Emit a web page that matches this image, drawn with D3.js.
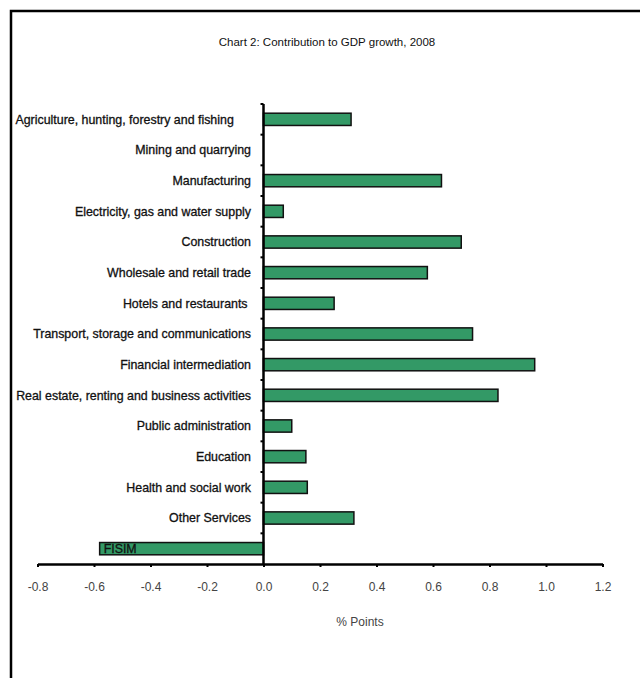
<!DOCTYPE html>
<html>
<head>
<meta charset="utf-8">
<script src="https://cdn.jsdelivr.net/npm/d3@7"></script>
<style>
  html, body { margin: 0; padding: 0; background: #fff; }
  svg { display: block; }
  text { font-family: "Liberation Sans", Arial, sans-serif; }
</style>
</head>
<body>
<svg id="chart" width="640" height="678"></svg>
<script>
// Sector contributions to GDP growth, 2008 (percentage points)
const sectors = [
  "Agriculture, hunting, forestry and fishing     ",
  "Mining and quarrying",
  "Manufacturing",
  "Electricity, gas and water supply",
  "Construction",
  "Wholesale and retail trade",
  "Hotels and restaurants ",
  "Transport, storage and communications",
  "Financial intermediation",
  "Real estate, renting and business activities",
  "Public administration",
  "Education",
  "Health and social work",
  "Other Services",
  "FISIM"
];
const contributions = [0.31, 0.00, 0.63, 0.07, 0.70, 0.58, 0.25, 0.74, 0.96, 0.83, 0.10, 0.15, 0.155, 0.32, -0.58];
const xTicks = [-0.8, -0.6, -0.4, -0.2, 0.0, 0.2, 0.4, 0.6, 0.8, 1.0, 1.2];

const title = "Chart 2: Contribution to GDP growth, 2008";
const xTitle = "% Points";

const svg = d3.select("#chart");

// outer frame (runs past the right and bottom edges)
svg.append("rect")
  .attr("x", 11).attr("y", 11)
  .attr("width", 700).attr("height", 720)
  .attr("fill", "none").attr("stroke", "#000").attr("stroke-width", 2.5);

const plot = { left: 37.5, right: 602.5, top: 104, bottom: 564 };

const x = d3.scaleLinear().domain([-0.8, 1.2]).range([plot.left, plot.right]);
const y = d3.scaleBand().domain(d3.range(sectors.length)).range([plot.top, plot.bottom]).paddingInner(0.6).paddingOuter(0.3);
const yb = d3.scaleBand().domain(d3.range(sectors.length)).range([plot.top, plot.bottom]);

// plain hyphen for negative tick values
const fmt = d => d3.format(".1f")(d).replace("\u2212", "-");

svg.append("text")
  .attr("x", 327).attr("y", 46)
  .attr("text-anchor", "middle")
  .attr("font-size", 11.5).attr("fill", "#111")
  .text(title);

// bars
svg.append("g").selectAll("rect")
  .data(contributions)
  .join("rect")
  .attr("x", d => x(Math.min(0, d)))
  .attr("y", (d, i) => y(i))
  .attr("width", d => Math.abs(x(d) - x(0)))
  .attr("height", y.bandwidth())
  .attr("fill", "#339966")
  .attr("stroke", "#111")
  .attr("stroke-width", 1.5)
  .attr("display", d => d === 0 ? "none" : null);

// category labels: positive sectors right-aligned beside the axis,
// negative ones placed inside the bar from its left end
svg.append("g").selectAll("text")
  .data(sectors)
  .join("text")
  .attr("x", (d, i) => contributions[i] < 0 ? x(contributions[i]) + 4 : 251)
  .attr("y", (d, i) => yb(i) + yb.bandwidth() / 2)
  .attr("dy", "0.35em")
  .attr("text-anchor", (d, i) => contributions[i] < 0 ? "start" : "end")
  .attr("font-size", 12.4)
  .attr("fill", "#111")
  .attr("stroke", "#111").attr("stroke-width", 0.3)
  .style("white-space", "pre")
  .attr("xml:space", "preserve")
  .text(d => d);

// x axis
const xAxis = d3.axisBottom(x)
  .tickValues(xTicks)
  .tickFormat(fmt)
  .tickSize(3)
  .tickPadding(15)
  .tickSizeOuter(0);
const gx = svg.append("g")
  .attr("transform", `translate(0,${plot.bottom})`)
  .call(xAxis);
gx.select(".domain").attr("stroke", "#000").attr("stroke-width", 2.5);
gx.selectAll(".tick line").attr("stroke", "#000").attr("stroke-width", 2);
gx.selectAll(".tick text")
  .attr("font-size", 12).attr("fill", "#444")
  .attr("font-family", "Liberation Sans, Arial, sans-serif");

// y axis at zero with ticks between categories
const gy = svg.append("g");
gy.append("line")
  .attr("x1", x(0)).attr("x2", x(0))
  .attr("y1", plot.top).attr("y2", plot.bottom)
  .attr("stroke", "#000").attr("stroke-width", 2.5);
gy.selectAll(".ytick")
  .data(d3.range(sectors.length))
  .join("line")
  .attr("class", "ytick")
  .attr("x1", x(0) - 3).attr("x2", x(0))
  .attr("y1", i => yb(i)).attr("y2", i => yb(i))
  .attr("stroke", "#000").attr("stroke-width", 2);

svg.append("text")
  .attr("x", 360).attr("y", 626)
  .attr("text-anchor", "middle")
  .attr("font-size", 12).attr("fill", "#444")
  .text(xTitle);
</script>
</body>
</html>
